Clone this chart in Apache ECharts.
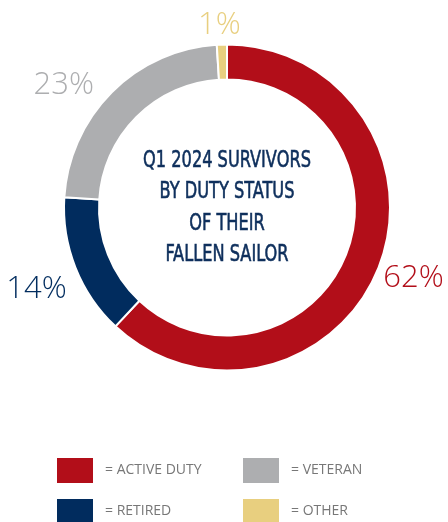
<!DOCTYPE html>
<html>
<head>
<meta charset="utf-8">
<script src="https://cdn.jsdelivr.net/npm/echarts@6/dist/echarts.min.js"></script>
<style>
html,body{margin:0;padding:0;background:#fff;}
#chart{width:448px;height:522px;}
</style>
</head>
<body>
<div id="chart"></div>
<script>
const categories = ['ACTIVE DUTY', 'RETIRED', 'VETERAN', 'OTHER'];
const shares = [62, 14, 23, 1];
const sliceColors = ['#B20E19', '#012C5E', '#ADAEB0', '#E8CF7F'];
const centerTitle = ['Q1 2024 SURVIVORS', 'BY DUTY STATUS', 'OF THEIR', 'FALLEN SAILOR'];
const legendLeft = ['ACTIVE DUTY', 'RETIRED'];
const legendRight = ['VETERAN', 'OTHER'];

const labelNudge = [[-4, 9], [0, 20], [-10, -4], [24, -15]];

const chart = echarts.init(document.getElementById('chart'), null, {renderer: 'canvas'});

const legendCommon = {
  orient: 'vertical',
  top: 456,
  height: 120,
  padding: 0,
  itemWidth: 38,
  itemHeight: 27,
  itemGap: 12,
  icon: 'rect',
  formatter: n => '= ' + n,
  textStyle: {
    color: '#777777',
    fontFamily: '"Open Sans", Lato, sans-serif',
    fontSize: 14,
    padding: [0, 0, 0, 6]
  }
};

chart.setOption({
  animation: false,
  color: sliceColors,
  graphic: [{
    type: 'text',
    x: 227,
    y: 208,
    scaleX: 0.9,
    scaleY: 1.16,
    silent: true,
    style: {
      text: centerTitle.join('\n'),
      align: 'center',
      verticalAlign: 'middle',
      fill: '#0E2F5C',
      stroke: '#0E2F5C',
      lineWidth: 0.5,
      fontFamily: '"DejaVu Sans Condensed", "Liberation Sans Narrow", sans-serif',
      fontSize: 20,
      fontWeight: 'normal',
      lineHeight: 27
    }
  }],
  legend: [
    Object.assign({}, legendCommon, {left: 55, data: legendLeft}),
    Object.assign({}, legendCommon, {left: 241, data: legendRight})
  ],
  series: [{
    type: 'pie',
    center: [227, 207.5],
    radius: [128, 163],
    startAngle: 90,
    clockwise: true,
    avoidLabelOverlap: false,
    itemStyle: {borderColor: '#fff', borderWidth: 2},
    label: {
      show: true,
      position: 'outside',
      formatter: '{c}%',
      fontFamily: '"Open Sans", Lato, sans-serif',
      fontWeight: 300,
      fontSize: 31,
      color: 'inherit'
    },
    labelLine: {show: false, length: 4, length2: 0},
    labelLayout: p => ({dx: labelNudge[p.dataIndex][0], dy: labelNudge[p.dataIndex][1]}),
    emphasis: {disabled: true},
    data: categories.map((c, i) => ({
      name: c,
      value: shares[i],
      label: {color: sliceColors[i]}
    }))
  }]
});
</script>
</body>
</html>
